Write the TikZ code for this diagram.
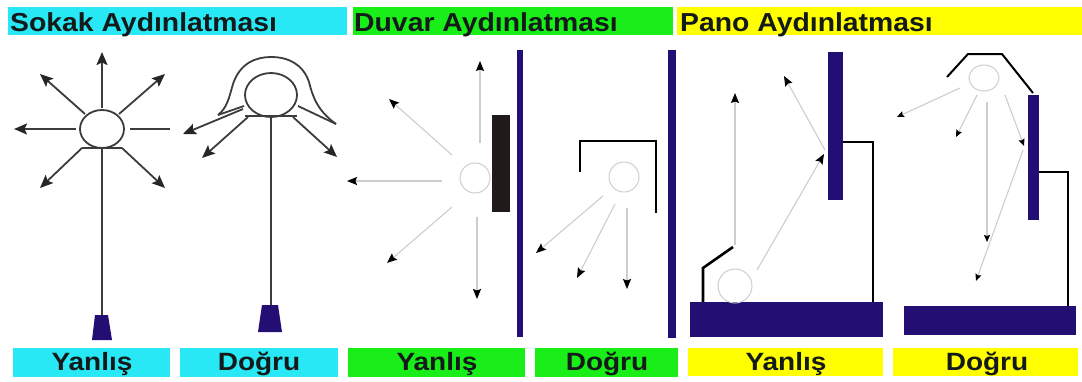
\documentclass[tikz,border=0pt]{standalone}
\usepackage{fontspec}
\setmainfont{Liberation Sans}
\usetikzlibrary{arrows.meta}
\definecolor{bandcyan}{RGB}{40,232,245}
\definecolor{bandgreen}{RGB}{25,238,25}
\definecolor{bandyellow}{RGB}{255,255,0}
\definecolor{navy}{RGB}{35,15,115}
\definecolor{rodgray}{RGB}{60,60,60}
\definecolor{raygray}{RGB}{205,205,205}
\definecolor{inkdark}{RGB}{20,25,25}
\definecolor{blockdark}{RGB}{32,26,26}
\begin{document}
\begin{tikzpicture}[x=1pt,y=-1pt,
  headtext/.style={anchor=base west, inner sep=0pt, text=inkdark, xscale=1.09,
    font=\fontsize{26}{26}\selectfont\bfseries},
  labeltext/.style={anchor=base, inner sep=0pt, text=inkdark, xscale=1.12,
    font=\fontsize{25}{25}\selectfont\bfseries},
  rod/.style={draw=rodgray, line width=1.8pt},
  darkray/.style={rod, -{Stealth[length=13pt,width=11pt,inset=2.5pt,color=black!85]}},
  lightray/.style={draw=raygray, line width=1.1pt,
    -{Stealth[length=10pt,width=8pt,inset=1.5pt,color=black]}},
  smallray/.style={draw=raygray, line width=1.1pt,
    -{Stealth[length=7pt,width=6pt,inset=1pt,color=black]}},
  lampglow/.style={draw=raygray, line width=1pt},
  bracket/.style={draw=black, line width=2.6pt},
  support/.style={draw=black, line width=2pt},
]
\useasboundingbox (0,0) rectangle (1082,381);

% ---------- title bands ----------
\fill[bandcyan]   (8,7)   rectangle (347,35);
\fill[bandgreen]  (353,7) rectangle (673,35);
\fill[bandyellow] (677,7) rectangle (1082,35);
\node[headtext] (h1) at (10,31)  {Sokak Aydınlatması};
\node[headtext] (h2) at (354,31) {Duvar Aydınlatması};
\node[headtext] (h3) at (680,31) {Pano Aydınlatması};

% ---------- label bands ----------
\fill[bandcyan]   (13,348)  rectangle (170,377);
\fill[bandcyan]   (180,348) rectangle (338,377);
\fill[bandgreen]  (348,348) rectangle (525,377);
\fill[bandgreen]  (535,348) rectangle (678,377);
\fill[bandyellow] (688,348) rectangle (883,376);
\fill[bandyellow] (893,348) rectangle (1078,376);
\node[labeltext] (l1) at (92,370)  {Yanlış};
\node[labeltext] (l2) at (259,370) {Doğru};
\node[labeltext] (l3) at (437,370) {Yanlış};
\node[labeltext] (l4) at (607,370) {Doğru};
\node[labeltext] (l5) at (786,370) {Yanlış};
\node[labeltext] (l6) at (987,370) {Doğru};

% ---------- street lamp, bare globe ----------
\coordinate (a0) at (102,129);
\draw[rod] (a0) ellipse [x radius=22pt, y radius=19pt];
\coordinate (abl) at (82,148);
\coordinate (abr) at (122,148);
\coordinate (abm) at (102,148);
\draw[rod] (abl) -- (abr);
\coordinate (aup0) at (102,108);  \coordinate (aup1) at (102,52);
\coordinate (aul0) at (85,114);   \coordinate (aul1) at (40,74);
\coordinate (aur0) at (119,114);  \coordinate (aur1) at (165,74);
\coordinate (al0) at (76,129);    \coordinate (al1) at (14,129);
\coordinate (ar0) at (130,129);   \coordinate (ar1) at (170,129);
\coordinate (adl1) at (40,188);   \coordinate (adr1) at (165,188);
\draw[darkray] (aup0) -- (aup1);
\draw[darkray] (aul0) -- (aul1);
\draw[darkray] (aur0) -- (aur1);
\draw[darkray] (al0) -- (al1);
\draw[rod] (ar0) -- (ar1);
\draw[darkray] (abl) -- (adl1);
\draw[darkray] (abr) -- (adr1);
\coordinate (afoot) at (102,315);
\draw[rod] (abm) -- (afoot);
\fill[navy] (95,315) -- (108,315) -- (112,340) -- (92,340) -- cycle;

% ---------- street lamp, shaded globe ----------
\coordinate (b0) at (271,95);
\draw[rod] (b0) ellipse [x radius=26pt, y radius=22pt];
\coordinate (bhl) at (218,115);
\coordinate (bhr) at (336,124);
\draw[rod] (bhl) .. controls (227,108) and (229,98) .. (233,84)
                 .. controls (240,63) and (256,57) .. (271,57)
                 .. controls (288,57) and (303,64) .. (309,82)
                 .. controls (313,98) and (318,111) .. (bhr);
\coordinate (bil) at (244,106);
\coordinate (bir) at (298,106);
\draw[rod] (bhl) -- (bil);
\draw[rod] (bir) -- (bhr);
\coordinate (bbl) at (245,116);
\coordinate (bbr) at (297,116);
\coordinate (bbm) at (271,116);
\draw[rod] (bbl) -- (bbr);
\coordinate (br1a) at (243,109);  \coordinate (br1b) at (183,134);
\coordinate (br2a) at (248,117);  \coordinate (br2b) at (202,158);
\coordinate (br3a) at (293,117);  \coordinate (br3b) at (337,157);
\draw[darkray] (br1a) -- (br1b);
\draw[darkray] (br2a) -- (br2b);
\draw[darkray] (br3a) -- (br3b);
\coordinate (bfoot) at (271,305);
\draw[rod] (bbm) -- (bfoot);
\fill[navy] (262,305) -- (278,305) -- (282,332) -- (258,332) -- cycle;

% ---------- wall light, open fitting ----------
\fill[navy] (517,50) rectangle (523,337);
\fill[blockdark] (492,115) rectangle (510,212);
\coordinate (c0) at (475,178);
\draw[lampglow] (c0) circle [radius=15pt];
\coordinate (cu0) at (480,143);  \coordinate (cu1) at (480,61);
\coordinate (cul0) at (452,155); \coordinate (cul1) at (389,99);
\coordinate (cl0) at (442,181);  \coordinate (cl1) at (347,181);
\coordinate (cdl0) at (452,207); \coordinate (cdl1) at (387,263);
\coordinate (cd0) at (477,217);  \coordinate (cd1) at (477,299);
\draw[lightray] (cu0) -- (cu1);
\draw[lightray] (cul0) -- (cul1);
\draw[lightray] (cl0) -- (cl1);
\draw[lightray] (cdl0) -- (cdl1);
\draw[lightray] (cd0) -- (cd1);

% ---------- wall light, shielded fitting ----------
\fill[navy] (668,50) rectangle (676,338);
\coordinate (dk1) at (580,172);
\coordinate (dk2) at (580,141);
\coordinate (dk3) at (656,141);
\coordinate (dk4) at (656,213);
\draw[bracket] (dk1) -- (dk2) -- (dk3) -- (dk4);
\coordinate (d0) at (624,177);
\draw[lampglow] (d0) circle [radius=15pt];
\coordinate (d1a) at (603,196);  \coordinate (d1b) at (536,253);
\coordinate (d2a) at (615,204);  \coordinate (d2b) at (577,278);
\coordinate (d3a) at (627,208);  \coordinate (d3b) at (627,289);
\draw[lightray] (d1a) -- (d1b);
\draw[lightray] (d2a) -- (d2b);
\draw[lightray] (d3a) -- (d3b);

% ---------- billboard, lit from below ----------
\fill[navy] (690,302) rectangle (883,337);
\fill[navy] (828,52) rectangle (843,200);
\coordinate (ep1) at (843,142);
\coordinate (ep2) at (873,142);
\coordinate (ep3) at (873,302);
\draw[support] (ep1) -- (ep2) -- (ep3);
\coordinate (e0) at (735,286);
\draw[lampglow] (e0) circle [radius=17pt];
\coordinate (er1) at (703,302);
\coordinate (er2) at (703,268);
\coordinate (er3) at (733,247);
\draw[bracket] (er1) -- (er2) -- (er3);
\coordinate (eu0) at (735,245);  \coordinate (eu1) at (735,93);
\coordinate (eb0) at (757,270);  \coordinate (eb1) at (824,154);
\coordinate (ef0) at (825,150);  \coordinate (ef1) at (784,76);
\draw[lightray] (eu0) -- (eu1);
\draw[lightray] (eb0) -- (eb1);
\draw[lightray] (ef0) -- (ef1);

% ---------- billboard, lit from above ----------
\fill[navy] (904,306) rectangle (1076,335);
\fill[navy] (1028,95) rectangle (1039,220);
\coordinate (fp1) at (1039,172);
\coordinate (fp2) at (1068,172);
\coordinate (fp3) at (1068,306);
\draw[support] (fp1) -- (fp2) -- (fp3);
\coordinate (fh1) at (947,77);
\coordinate (fh2) at (968,54);
\coordinate (fh3) at (1002,54);
\coordinate (fh4) at (1033,93);
\draw[support] (fh1) -- (fh2) -- (fh3) -- (fh4);
\coordinate (f0) at (984,78);
\draw[lampglow] (f0) ellipse [x radius=15pt, y radius=13pt];
\coordinate (f1a) at (960,88);   \coordinate (f1b) at (897,117);
\coordinate (f2a) at (977,95);   \coordinate (f2b) at (956,137);
\coordinate (f3a) at (987,102);  \coordinate (f3b) at (987,242);
\coordinate (f4a) at (1005,95);  \coordinate (f4b) at (1024,146);
\coordinate (f5a) at (1023,150); \coordinate (f5b) at (976,281);
\draw[smallray] (f1a) -- (f1b);
\draw[smallray] (f2a) -- (f2b);
\draw[smallray] (f3a) -- (f3b);
\draw[smallray] (f4a) -- (f4b);
\draw[smallray] (f5a) -- (f5b);
\end{tikzpicture}
\end{document}
